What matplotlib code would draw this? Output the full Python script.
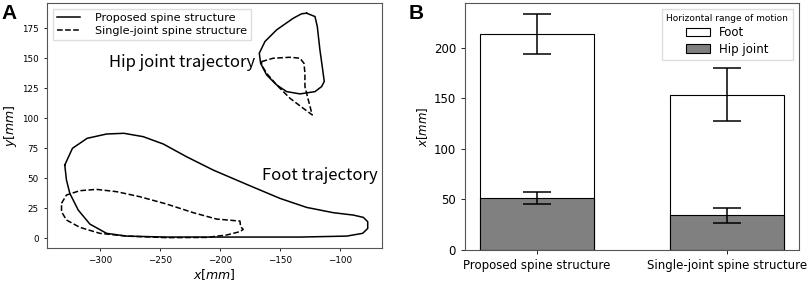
import numpy as np
import matplotlib
matplotlib.use("Agg")
import matplotlib.pyplot as plt

# panel A: trajectories (mm)
foot_prop_x = [-329.2, -322.8, -310.6, -294.4, -280.0, -263.9, -247.2, -227.8, -205.6,
               -177.8, -150.0, -127.8, -105.6, -88.9, -80.6, -76.9, -76.9, -81.1, -94.4,
               -133.3, -188.9, -244.4, -277.8, -294.4, -308.3, -318.0, -325.0, -327.8, -329.2]
foot_prop_y = [61.1, 75.0, 83.3, 86.9, 87.5, 84.7, 78.6, 68.0, 56.9,
               45.0, 33.3, 25.8, 21.4, 19.4, 17.5, 13.9, 8.3, 4.2, 1.9,
               1.1, 1.1, 1.1, 1.9, 4.2, 11.9, 23.6, 37.5, 48.6, 61.1]

foot_single_x = [-331.9, -327.8, -316.7, -302.8, -286.1, -266.7, -244.4, -222.2, -202.8,
                 -183.3, -182.8, -180.6, -183.3, -194.4, -211.1, -244.4, -277.8, -300.0,
                 -316.7, -327.8, -331.9, -331.9]
foot_single_y = [29.2, 36.1, 39.7, 40.8, 38.9, 34.7, 28.6, 21.4, 16.1,
                 14.4, 9.7, 7.5, 5.6, 2.8, 0.8, 0.6, 1.9, 4.2,
                 9.2, 15.3, 22.2, 29.2]

hip_prop_x = [-127.8, -120.8, -118.9, -116.7, -114.4, -113.1, -115.3, -120.8, -133.3,
              -144.4, -152.8, -161.1, -166.1, -167.2, -162.5, -152.8, -138.9, -132.0, -127.8]
hip_prop_y = [187.5, 184.7, 176.4, 156.9, 140.3, 130.6, 126.4, 122.2, 120.3,
              122.2, 127.8, 136.1, 145.8, 154.2, 163.9, 173.6, 183.3, 187.0, 187.5]

hip_single_x = [-165.3, -155.6, -141.7, -133.3, -130.0, -129.2, -129.2, -126.4, -123.1,
                -130.6, -141.7, -152.8, -161.1, -165.3, -165.3]
hip_single_y = [147.2, 150.0, 150.8, 150.0, 145.8, 137.5, 126.4, 115.3, 102.8,
                108.3, 116.7, 127.8, 137.5, 144.4, 147.2]

# panel B: horizontal range of motion (mm)
structures = ["Proposed spine structure", "Single-joint spine structure"]
foot_range = [213, 153.5]
foot_err = [19.7, 26.5]
hip_range = [51.5, 34.3]
hip_err = [5.6, 7.5]

fig = plt.figure(figsize=(8.09, 2.84), dpi=100)
ax1 = fig.add_axes([0.0581, 0.1268, 0.4141, 0.8627])
ax2 = fig.add_axes([0.5748, 0.1197, 0.4128, 0.8697])

ax1.plot(foot_prop_x, foot_prop_y, color="k", lw=1.1, label="Proposed spine structure")
ax1.plot(foot_single_x, foot_single_y, color="k", lw=1.1, ls="--",
         label="Single-joint spine structure")
ax1.plot(hip_prop_x, hip_prop_y, color="k", lw=1.1)
ax1.plot(hip_single_x, hip_single_y, color="k", lw=1.1, ls="--")
ax1.set_xlim(-344, -65)
ax1.set_ylim(-8, 196)
ax1.set_xticks([-300, -250, -200, -150, -100])
ax1.set_yticks([0, 25, 50, 75, 100, 125, 150, 175])
ax1.tick_params(labelsize=6.3, length=2.5, width=0.6)
ax1.set_xlabel("$x[mm]$", fontsize=9, labelpad=1)
ax1.set_ylabel("$y[mm]$", fontsize=9, labelpad=2)
ax1.text(-292.5, 146.3, "Hip joint trajectory", family=["Noto Sans CJK JP", "DejaVu Sans"],
         fontsize=12, va="center", ha="left")
ax1.text(-165, 52.2, "Foot trajectory", family=["Noto Sans CJK JP", "DejaVu Sans"],
         fontsize=12, va="center", ha="left")
ax1.legend(loc="upper left", fontsize=8.1, handlelength=2.0, handletextpad=1.35,
           borderpad=0.4, labelspacing=0.25, fancybox=False, framealpha=1,
           edgecolor="#dddddd", bbox_to_anchor=(0.0, 1.0))

x = np.arange(len(structures))
ax2.bar(x, foot_range, 0.6, yerr=foot_err, capsize=10, color="white", edgecolor="k",
        lw=0.8, error_kw=dict(elinewidth=1.1, capthick=1.1), label="Foot")
ax2.bar(x, hip_range, 0.6, yerr=hip_err, capsize=10, color="#808080", edgecolor="k",
        lw=0.8, error_kw=dict(elinewidth=1.1, capthick=1.1), label="Hip joint")
ax2.set_xticks(x)
ax2.set_xticklabels(structures)
ax2.set_ylim(0, 244)
ax2.set_yticks([0, 50, 100, 150, 200])
ax2.tick_params(labelsize=8.5, length=3, width=0.6)
ax2.set_ylabel("$x[mm]$", fontsize=8.5, labelpad=3)
leg = ax2.legend(title="Horizontal range of motion", loc="upper right", fontsize=8.5,
                 title_fontsize=6.5, fancybox=False, framealpha=1, edgecolor="#dddddd",
                 borderpad=0.4, labelspacing=0.3)

for ax in (ax1, ax2):
    for sp in ax.spines.values():
        sp.set_color("#555555")

fig.text(0.002, 0.985, "A", fontsize=15, fontweight="bold", family="Liberation Sans", va="top")
fig.text(0.505, 0.985, "B", fontsize=15, fontweight="bold", family="Liberation Sans", va="top")

fig.savefig("out.png", dpi=100)
